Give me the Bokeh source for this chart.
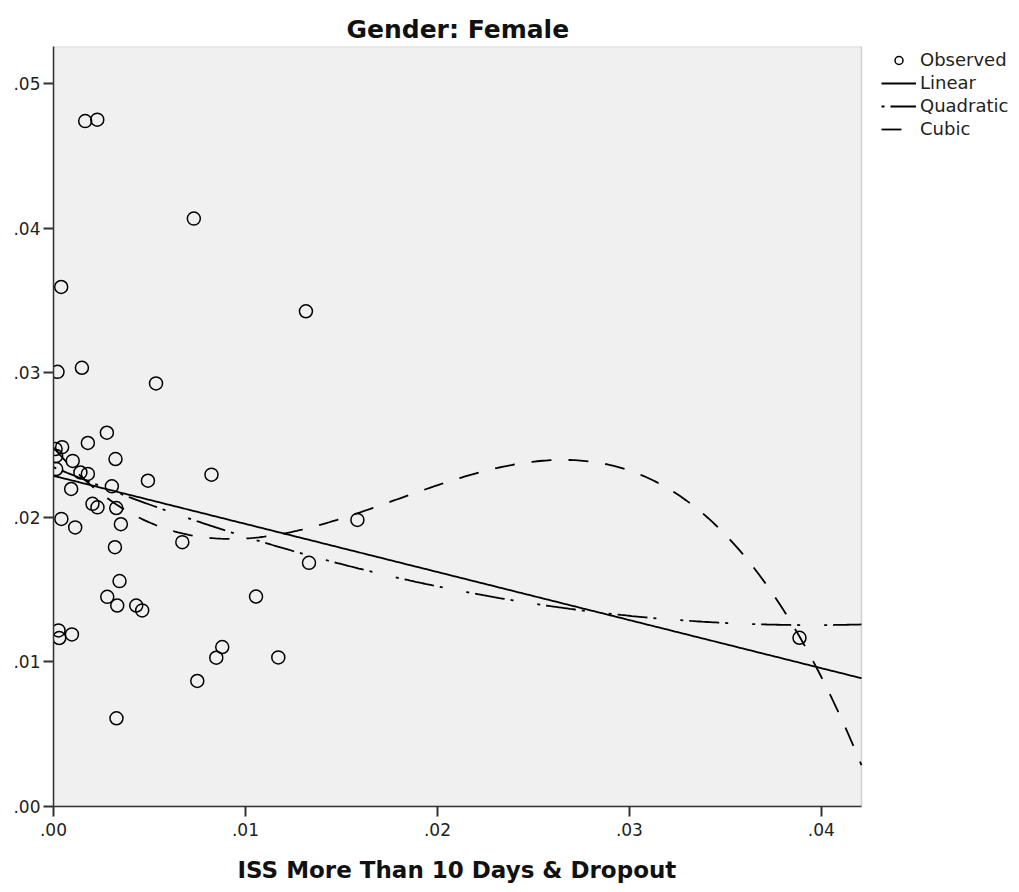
import numpy as np
from bokeh.plotting import figure
from bokeh.models import (Range1d, FixedTicker, CustomJSTickFormatter, Legend, LegendItem,
                          ColumnDataSource, BoxAnnotation, Title)
from bokeh.embed import file_html
from bokeh.resources import INLINE

# ---- data ----
obs_x = [0.00165, 0.00228, 0.00731, 0.00040, 0.01315, 0.00021, 0.00148, 0.00534,
         0.00278, 0.00179, 0.00045, 0.00011, 0.00014, 0.00323, 0.00100, 0.00014,
         0.00140, 0.00179, 0.00823, 0.00492, 0.00092, 0.00304, 0.00203, 0.00229,
         0.00327, 0.00351, 0.00041, 0.00113, 0.00320, 0.00671, 0.01583, 0.01331,
         0.00344, 0.00280, 0.00332, 0.00431, 0.00462, 0.01055, 0.00026, 0.00030,
         0.00096, 0.00879, 0.00848, 0.01171, 0.00749, 0.00328, 0.03886]
obs_y = [0.0474, 0.0475, 0.04066, 0.03593, 0.03425, 0.03006, 0.03034, 0.02926,
         0.02585, 0.02514, 0.02485, 0.02472, 0.02424, 0.02403, 0.02390, 0.02334,
         0.02310, 0.02300, 0.02295, 0.02253, 0.02196, 0.02214, 0.02093, 0.02069,
         0.02064, 0.01952, 0.01989, 0.01930, 0.01793, 0.01828, 0.01982, 0.01685,
         0.01559, 0.01450, 0.01390, 0.01390, 0.01356, 0.01452, 0.01218, 0.01165,
         0.01190, 0.01103, 0.01029, 0.01031, 0.00868, 0.00610, 0.01167]

x_ticks = [0.0, 0.01, 0.02, 0.03, 0.04]
y_ticks = [0.0, 0.01, 0.02, 0.03, 0.04, 0.05]
x_max = 0.04209
y_max = 0.05256

title_text = "Gender: Female"
x_label = "ISS More Than 10 Days & Dropout"
legend_labels = ["Observed", "Linear", "Quadratic", "Cubic"]

# ---- fitted curves (least squares on observed data) ----
ox = np.array(obs_x)
oy = np.array(obs_y)
grid = np.linspace(0.0, x_max, 300)
lin = np.polyval(np.polyfit(ox, oy, 1), grid)
quad = np.polyval(np.polyfit(ox, oy, 2), grid)
cub = np.polyval(np.polyfit(ox, oy, 3), grid)

FONT = "DejaVu Sans"

# layout: canvas 1019 wide, plot box from px 53 to 861, legend to the right
LEFT, BOX_W, FRAME_W = 53, 808, 1019 - 53
x_view_end = x_max * FRAME_W / BOX_W

p = figure(width=1019, height=892, output_backend="svg", toolbar_location=None,
           x_range=Range1d(0, x_view_end), y_range=Range1d(0, y_max),
           min_border_left=LEFT, min_border_right=0, min_border_top=46, min_border_bottom=86)

p.background_fill_color = "white"
p.border_fill_color = "white"
p.outline_line_color = None
p.xgrid.visible = False
p.ygrid.visible = False

# plot-area box (grey panel with border)
box = BoxAnnotation(left=0, right=x_max, bottom=0, top=y_max,
                    fill_color="#F0F0F0", fill_alpha=1.0,
                    line_color="#777777", line_width=1.5, level="underlay")
p.add_layout(box)

p.title.text = title_text
p.title.text_font = FONT
p.title.text_font_size = "25px"
p.title.text_font_style = "bold"
p.title.text_color = "#111111"
p.title.align = "left"
p.title.offset = 293
p.title.standoff = 6

fmt = CustomJSTickFormatter(code="return tick.toFixed(2).replace(/^0/, '');")
for ax, ticks in ((p.xaxis[0], x_ticks), (p.yaxis[0], y_ticks)):
    ax.ticker = FixedTicker(ticks=ticks)
    ax.formatter = fmt
    ax.minor_tick_line_color = None
    ax.major_tick_in = 0
    ax.major_tick_out = 10
    ax.major_tick_line_color = "#333333"
    ax.major_tick_line_width = 2
    ax.axis_line_color = "#333333"
    ax.axis_line_width = 1.5
    ax.major_label_text_font = FONT
    ax.major_label_text_font_size = "17px"
    ax.major_label_text_color = "#222222"

p.xaxis[0].bounds = (0, x_max)
p.yaxis[0].bounds = (0, y_max)
p.yaxis[0].major_label_standoff = 3
p.xaxis[0].major_label_standoff = 6
# small blank axis label = extra gap before the x title
p.xaxis[0].axis_label = " "
p.xaxis[0].axis_label_text_font_size = "4px"
p.xaxis[0].axis_label_standoff = 5

# x-axis title, centred under the plot box
xt = Title(text=x_label, text_font=FONT, text_font_size="23px", text_font_style="bold",
           text_color="#111111", align="left", offset=184, standoff=6)
p.add_layout(xt, "below")

src = ColumnDataSource(dict(x=obs_x, y=obs_y))
r_obs = p.scatter("x", "y", source=src, marker="circle", size=13, fill_color=None,
                  line_color="black", line_width=1.5)
r_lin = p.line(grid, lin, line_color="black", line_width=1.8)
r_quad = p.line(grid, quad, line_color="black", line_width=1.8, line_dash="3 6 30 6 3 24")
r_cub = p.line(grid, cub, line_color="black", line_width=1.8, line_dash="20 17")

legend = Legend(items=[LegendItem(label=legend_labels[0], renderers=[r_obs]),
                       LegendItem(label=legend_labels[1], renderers=[r_lin]),
                       LegendItem(label=legend_labels[2], renderers=[r_quad]),
                       LegendItem(label=legend_labels[3], renderers=[r_cub])],
                location=(828, 667))
legend.background_fill_alpha = 0
legend.border_line_color = None
legend.padding = 0
legend.margin = 0
legend.spacing = 2
legend.glyph_width = 35
legend.glyph_height = 20
legend.label_height = 20
legend.label_standoff = 4
legend.label_text_font = FONT
legend.label_text_font_size = "18px"
legend.label_text_color = "#222222"
p.add_layout(legend, "center")

open("out.html", "w").write(file_html(p, INLINE))
